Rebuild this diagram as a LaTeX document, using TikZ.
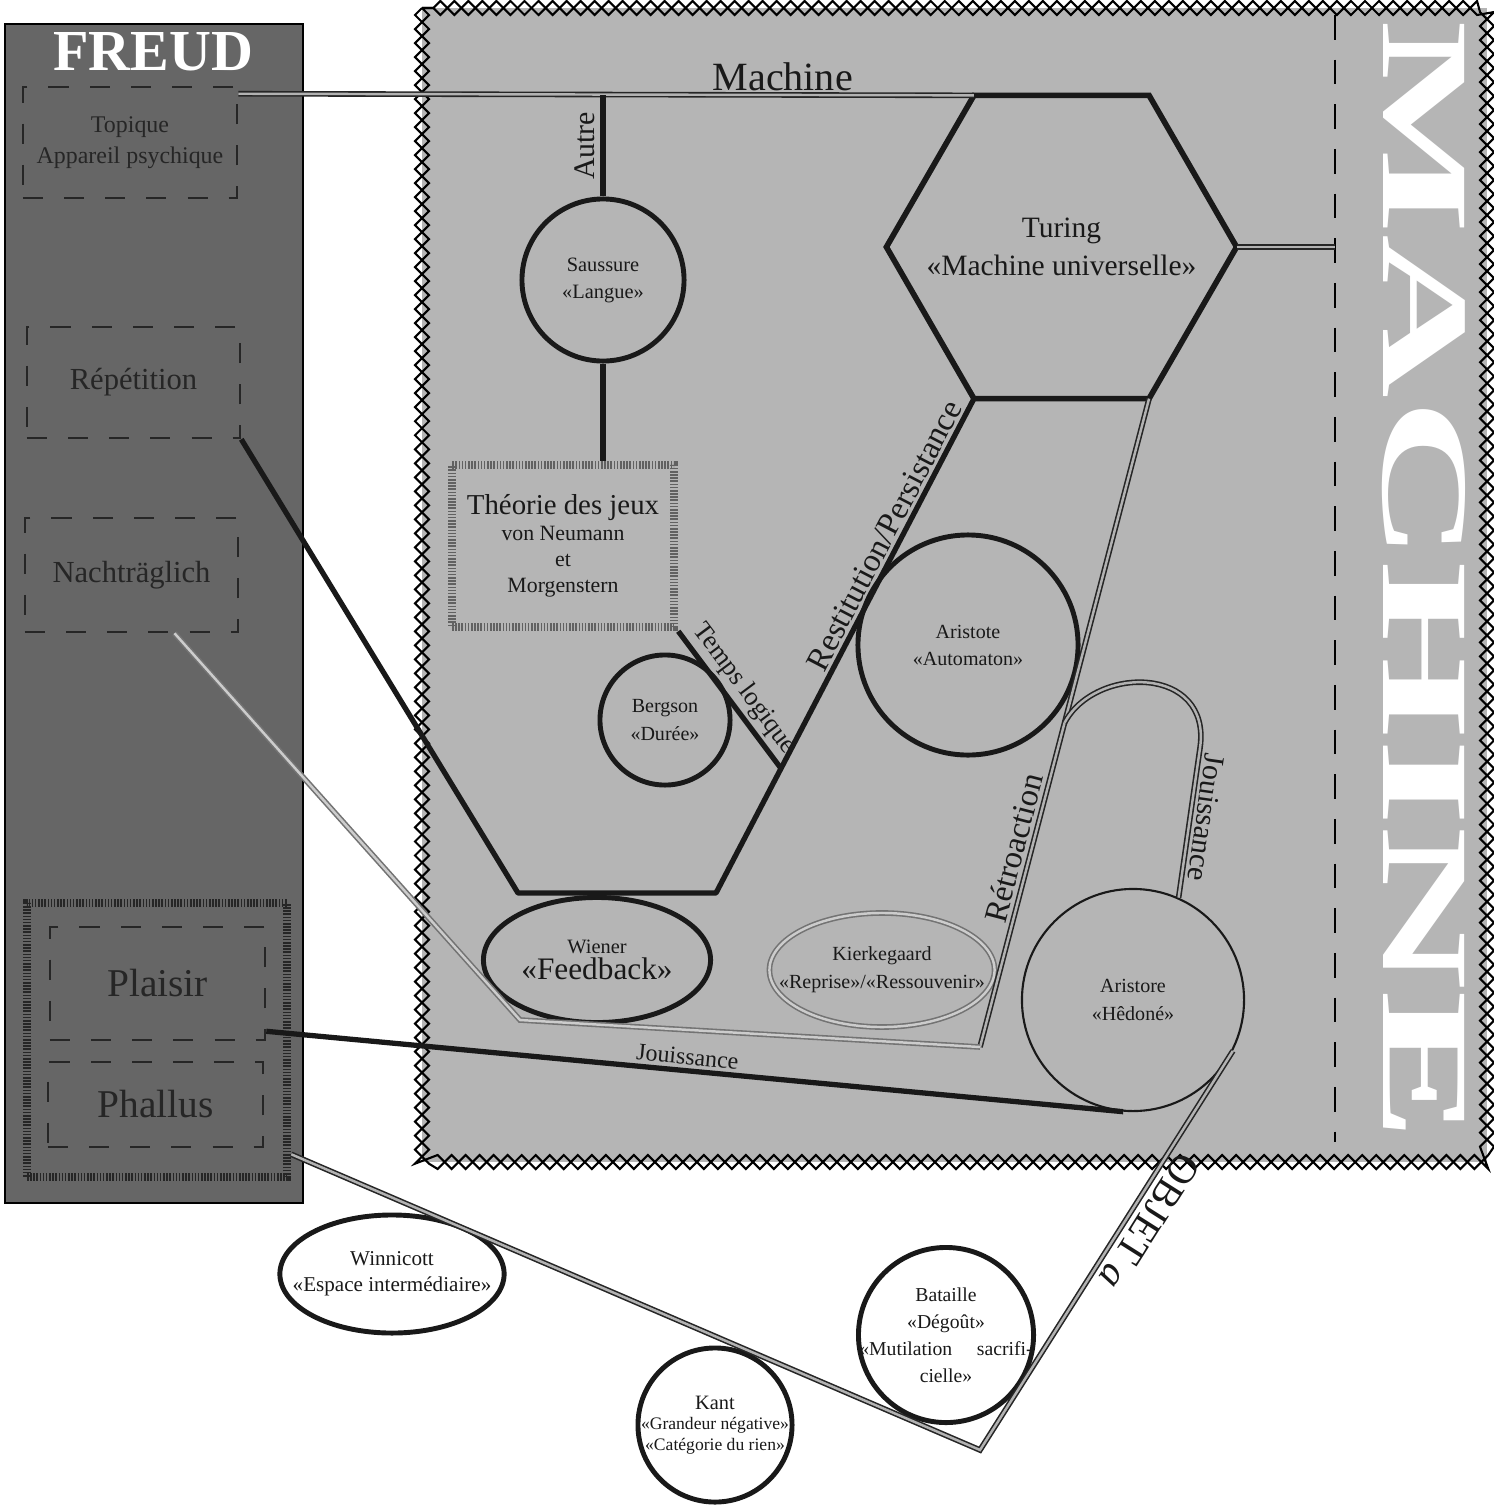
\documentclass[tikz,border=0pt]{standalone}
\usepackage{graphicx}
\usepackage{fontspec}
\setmainfont{Liberation Serif}
\usetikzlibrary{shapes.geometric, decorations.pathmorphing, calc}
\newcommand{\fsz}[2]{\fontsize{#1}{#2}\selectfont}

\tikzset{
  fbox/.style={draw=black!85, line width=0.7pt, dash pattern=on 5.7pt off 6pt,
    minimum width=2.14cm, minimum height=1.11cm, inner sep=0pt, align=center, text=black!85},
  hatch/.style={draw=#1, line width=2.4pt, dash pattern=on 0.45pt off 0.45pt,
    inner sep=0pt, align=center},
  hatch/.default=black!80,
  circ/.style={circle, draw=black!90, line width=1.4pt, inner sep=0pt, align=center},
  ell/.style={ellipse, draw=black!90, line width=1.4pt, inner sep=0pt, align=center},
  boldline/.style={line width=1.5pt, draw=black!90, line join=round},
  dline/.style={draw=black!85, double=black!30, double distance=0.7pt, line width=0.45pt},
  gline/.style={draw=black!55, double=black!20, double distance=0.7pt, line width=0.45pt},
  zz/.style={line width=0.6pt, decorate,
    decoration={zigzag, segment length=2.8mm, amplitude=0.7mm, #1}},
  zz/.default={},
}

\begin{document}
\begin{tikzpicture}[x=0.01cm, y=-0.01cm, every node/.style={text=black!90}]
\useasboundingbox (0,0) rectangle (1494,1506);

% Panels
\fill[black!29] (422,8) rectangle (1487,1162);
\draw[zz] (422,8) rectangle (1487,1162);
\draw[zz=mirror] (422,8) rectangle (1487,1162);
\draw[fill=black!60, line width=0.7pt] (5,24) rectangle (303,1203);

\coordinate (divtop) at (1335,15);
\coordinate (divbot) at (1335,1142);
\draw[dash pattern=on 7pt off 5.7pt, line width=0.6pt] (divtop) -- (divbot);
\node[text=white, rotate=-90] (machtitle) at (1424,581) {\resizebox{11.2cm}{0.82cm}{\bfseries MACHINE}};
\node[text=white, font=\fsz{16.5}{18}\bfseries] (freud) at (153,52) {FREUD};

% Freud side
\node[fbox, font=\fsz{6.8}{8.8}] (topique) at (130,142.5) {Topique\\Appareil psychique};
\node[fbox, minimum width=2.13cm, font=\fsz{8.7}{10}] (repet) at (133.5,382.5) {Répétition};
\node[fbox, minimum width=2.13cm, minimum height=1.14cm, font=\fsz{8.7}{10}] (nacht) at (131.5,575) {Nachträglich};
\node[hatch=black!85, minimum width=2.6cm, minimum height=2.74cm] (plpha) at (157,1040) {};
\node[fbox, minimum width=2.15cm, minimum height=1.13cm, font=\fsz{11.2}{13}] (plaisir) at (157.5,983.5) {Plaisir};
\node[fbox, minimum width=2.15cm, minimum height=0.85cm, font=\fsz{11.2}{13}] (phallus) at (155.5,1104.5) {Phallus};

% Machine side
\node[circ, minimum size=1.62cm, font=\fsz{5.8}{7.7}] (saussure) at (603,280) {Saussure\\«Langue»};
\node[hatch=black!62, minimum width=2.22cm, minimum height=1.62cm, font=\fsz{6.2}{7.4}] (jeux) at (563,546)
  {{\fsz{8.2}{9}Théorie des jeux}\\von Neumann\\et\\Morgenstern};
\node[circ, minimum size=1.3cm, font=\fsz{5.7}{7.7}] (bergson) at (665,720) {Bergson\\«Durée»};
\node[regular polygon, regular polygon sides=6, draw=black!90, line width=1.6pt, minimum size=3.5cm,
  inner sep=0pt, outer sep=0pt,
  label={[align=center, font=\fsz{8.4}{10.8}]center:Turing\\«Machine universelle»}] (turing) at (1061.5,247) {};
\node[circ, minimum size=2.2cm, font=\fsz{5.7}{7.7}] (aristote) at (968,645) {Aristote\\«Automaton»};
\node[ell, minimum width=2.27cm, minimum height=1.25cm, font=\fsz{5.8}{7.2}] (wiener) at (597,960)
  {Wiener\\{\fsz{8.9}{9}«Feedback»}};
\node[ellipse, gline, minimum width=2.25cm, minimum height=1.14cm, inner sep=-0.25cm, align=center,
  font=\fsz{5.7}{8}] (kierk) at (882,970) {Kierkegaard\\«Reprise»/«Ressouvenir»};
\node[circle, draw=black!90, line width=0.6pt, minimum size=2.22cm, inner sep=0pt, align=center,
  font=\fsz{5.7}{7.9}] (hedone) at (1133,1000) {Aristore\\«Hêdoné»};

% Outside
\node[ell, minimum width=2.18cm, minimum height=1.18cm, inner sep=-0.2cm, font=\fsz{6}{7.4}] (winni) at (392,1274)
  {Winnicott\\«Espace intermédiaire»};
\node[circ, minimum size=1.54cm, inner sep=-0.05cm, font=\fsz{5}{5.8}] (kant) at (715,1425)
  {{\fsz{5.8}{7}Kant}\\«Grandeur négative»\\«Catégorie du rien»};
\node[circ, minimum size=1.75cm, inner sep=-0.2cm, font=\fsz{5.6}{7.7}] (bataille) at (946,1335)
  {Bataille\\«Dégoût»\\«Mutilation\hspace{7pt}sacrifi-\\cielle»};

% Corners of the paths
\coordinate (hexbl) at (518,893);
\coordinate (hexbr) at (716,893);
\coordinate (tl) at ($(hexbr)!0.252!(turing.-120)$);
\coordinate (fbl) at (520,1020);
\coordinate (rbot) at (980,1047);
\coordinate (obot) at (980,1450);
\coordinate (jright) at (1200,748);
\coordinate (jstart) at ($(turing.-60)!0.5!(rbot)$);

% Connectors
\draw[dline] (topique.north east) ++(0,8) -- node[pos=0.74, above=0pt, inner sep=1pt, font=\fsz{11.4}{12}] (machlab) {Machine} (turing.120);
\draw[boldline] (saussure.north) -- node[sloped, above, inner sep=1.5pt, font=\fsz{8.5}{9}] (autrelab) {Autre} (saussure.north |- turing.120);
\draw[boldline] (saussure.south) -- (saussure.south |- jeux.north);
\draw[boldline] (jeux.south east) -- node[pos=0.5, sloped, above, inner sep=1pt, font=\fsz{7.5}{8}] (tempslab) {Temps logique} (tl);
\draw[boldline] (repet.south east) -- (hexbl) -- (hexbr) -- (tl)
  -- node[pos=0.61, sloped, above, inner sep=0.8pt, font=\fsz{9.3}{10}] (restlab) {Restitution/Persistance} (turing.-120);
\draw[dline] (turing.0) -- (turing.0 -| divtop);
\draw[dline] (turing.-60) -- node[pos=0.7, sloped, above, inner sep=1.5pt, font=\fsz{9.3}{10}] (retrolab) {Rétroaction} (rbot);
\draw[gline] (nacht.south) ++(43,0) -- (fbl) -- (rbot);
\draw[dline] (jstart) .. controls (1095,665) and (1212,665) .. (jright)
  -- node[pos=0.45, sloped, allow upside down, above, inner sep=1.5pt, font=\fsz{8.5}{9}] (jouilab) {Jouissance} (hedone.66);
\draw[boldline] (plaisir.south east) ++(0,-10) -- node[pos=0.49, sloped, above, inner sep=1pt, font=\fsz{6.8}{7}] (jouilab2) {Jouissance} (hedone.-95);
\draw[dline] (hedone.-27) -- node[pos=0.4, sloped, allow upside down, above, inner sep=2pt, font=\fsz{11.5}{12}] (objlab) {OBJET \textit{a}}
  (obot) -- ($(plpha.south east)+(0,-27)$);

\end{tikzpicture}
\end{document}
